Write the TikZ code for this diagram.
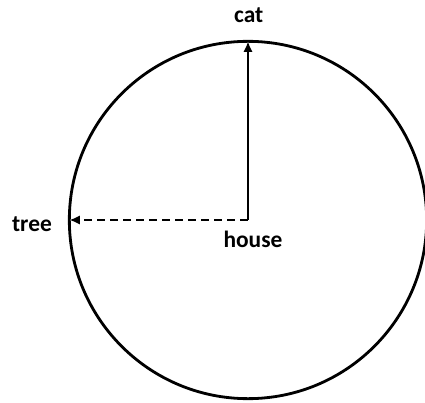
\documentclass[tikz,border=0pt]{standalone}
\usepackage{fontspec}
\setmainfont{Carlito}
\usetikzlibrary{arrows.meta}

\begin{document}
\begin{tikzpicture}[line width=2.4pt, >={Latex[length=9pt,width=8pt]},
    lbl/.style={font=\fontsize{20}{24}\selectfont\bfseries, inner sep=0pt}]
  \useasboundingbox (-7.44,-5.49) rectangle (5.31,6.6);
  \coordinate (house) at (0,0);
  \coordinate (top) at (90:5.36);
  \coordinate (left) at (180:5.36);

  \draw (house) circle (5.36);
  \draw[->] (house) -- (top);
  \draw[->, dash pattern=on 0.24cm off 0.15cm] (house) -- (left);

  \node[lbl] (cat) at (0.02,6.15) {cat};
  \node[lbl] (tree) at (-6.48,-0.12) {tree};
  \node[lbl, below] at (0.15,-0.3) (houselbl) {house};
\end{tikzpicture}
\end{document}
